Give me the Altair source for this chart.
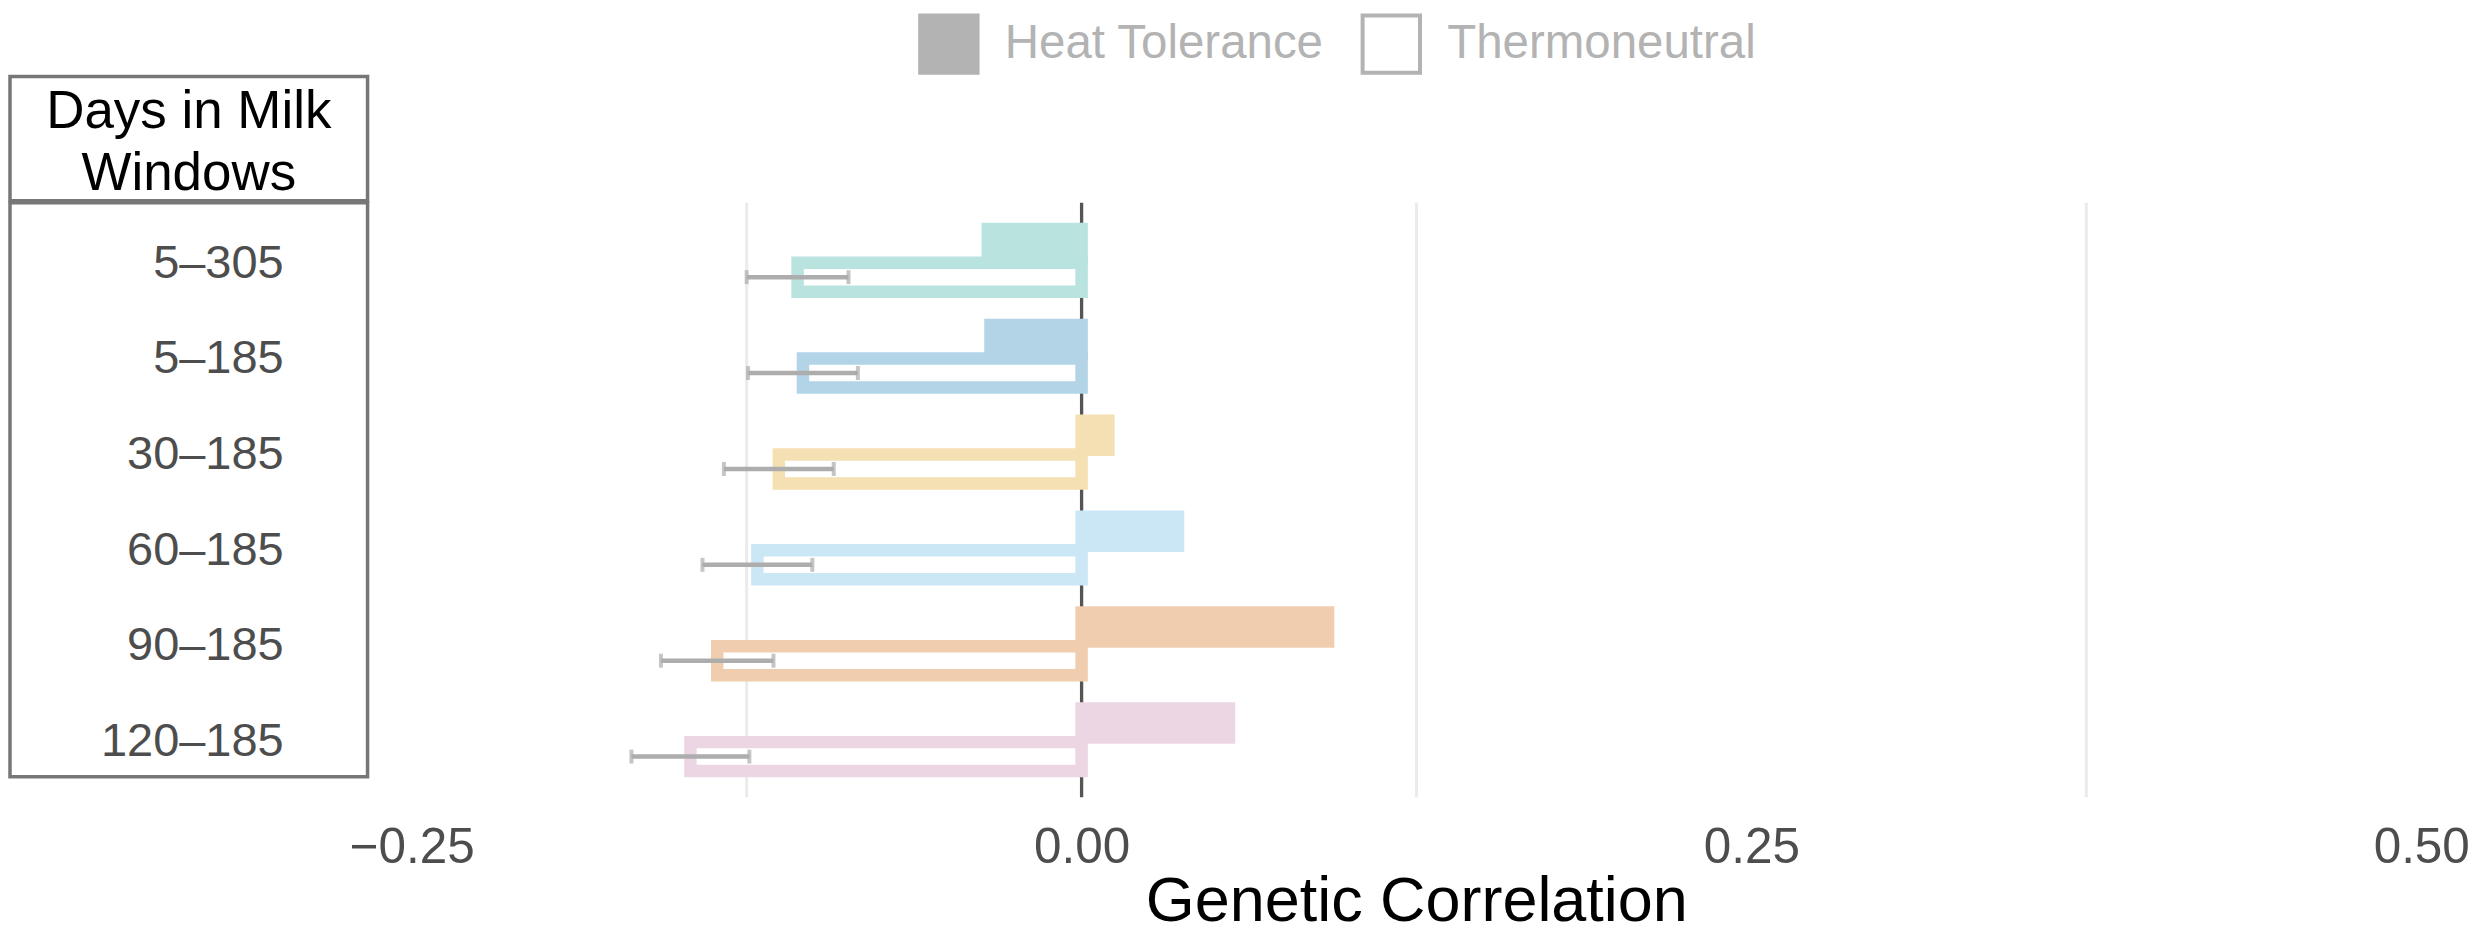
import altair as alt
import pandas as pd

# ---------------- data ----------------
windows = ["5–305", "5–185", "30–185", "60–185", "90–185", "120–185"]
heat_tolerance = [-0.035, -0.034, 0.010, 0.036, 0.092, 0.055]
thermoneutral = [-0.106, -0.104, -0.113, -0.121, -0.136, -0.146]
thermoneutral_se = [0.019, 0.0205, 0.0205, 0.0205, 0.021, 0.022]
window_colors = ["#b9e3df", "#b3d3e7", "#f5e0b3", "#cbe7f6", "#f1cdb0", "#ecd6e4"]
conditions = ["Heat Tolerance", "Thermoneutral"]
x_ticks = [-0.25, 0.0, 0.25, 0.5]
minor_grid = [-0.125, 0.125, 0.375]
header_lines = ["Days in Milk", "Windows"]

FONT = "Liberation Sans"

bars = pd.DataFrame({
    "Window": windows * 2,
    "Condition": [conditions[0]] * len(windows) + [conditions[1]] * len(windows),
    "value": heat_tolerance + thermoneutral,
})
err = pd.DataFrame({
    "Window": windows,
    "Condition": [conditions[1]] * len(windows),
    "lo": [v - s for v, s in zip(thermoneutral, thermoneutral_se)],
    "hi": [v + s for v, s in zip(thermoneutral, thermoneutral_se)],
})

# ---------------- scales / axes ----------------
x_scale = alt.Scale(domain=[-0.2665, 0.51], nice=False, zero=False)
y_scale = alt.Scale(domain=windows, paddingInner=0, paddingOuter=0.1)
yoff_scale = alt.Scale(domain=conditions, paddingInner=0.14, paddingOuter=0.494)
color_scale = alt.Scale(domain=windows, range=window_colors)

x_axis = alt.Axis(
    values=x_ticks, format=".2f", grid=False, ticks=False, tickSize=0, domain=False,
    labelFontSize=49.5, labelColor="#4d4d4d", labelFont=FONT, labelPadding=26,
    labelFlush=False, title="Genetic Correlation", titleFontSize=63,
    titleColor="#000000", titleFont=FONT, titleFontWeight="normal",
    titlePadding=-1, titleX=1050,
)


def x_enc(field):
    return alt.X(field, type="quantitative", scale=x_scale, axis=x_axis)


y_enc = alt.Y("Window:N", scale=y_scale, axis=None)
yoff_enc = alt.YOffset("Condition:N", scale=yoff_scale)

grid = alt.Chart(pd.DataFrame({"g": minor_grid})).mark_rule(
    color="#ebebeb", strokeWidth=3
).encode(x=x_enc("g"))

zero = alt.Chart(pd.DataFrame({"z": [0.0]})).mark_rule(
    color="#555555", strokeWidth=3.3
).encode(x=x_enc("z"))

heat = alt.Chart(bars).transform_filter(
    alt.datum.Condition == conditions[0]
).mark_bar(strokeWidth=12.5).encode(
    x=x_enc("value"), y=y_enc, yOffset=yoff_enc,
    fill=alt.Fill("Window:N", scale=color_scale, legend=None),
    stroke=alt.Stroke("Window:N", scale=color_scale, legend=None),
)

thermo = alt.Chart(bars).transform_filter(
    alt.datum.Condition == conditions[1]
).mark_bar(strokeWidth=12.5, fill="#ffffff").encode(
    x=x_enc("value"), y=y_enc, yOffset=yoff_enc,
    stroke=alt.Stroke("Window:N", scale=color_scale, legend=None),
)

err_rule = alt.Chart(err).mark_rule(color="#adadad", strokeWidth=4.5).encode(
    x=x_enc("lo"), x2="hi", y=y_enc, yOffset=yoff_enc,
)

err_caps = alt.Chart(err).transform_fold(["lo", "hi"], as_=["end", "pos"]).mark_tick(
    color="#adadad", orient="vertical", size=14, thickness=4
).encode(x=x_enc("pos"), y=y_enc, yOffset=yoff_enc)

legend_layer = alt.Chart(bars).transform_filter("false").mark_bar(
    stroke="#b3b3b3", strokeWidth=4
).encode(
    x=x_enc("value"), y=y_enc,
    fill=alt.Fill(
        "Condition:N",
        scale=alt.Scale(domain=conditions, range=["#b3b3b3", "#ffffff"]),
        legend=alt.Legend(
            title=None, orient="none", legendX=551, legendY=-190,
            direction="horizontal", symbolType="square", symbolSize=3300,
            symbolStrokeWidth=4, symbolStrokeColor="#b3b3b3", symbolOpacity=1,
            labelFontSize=47.5, labelColor="#b3b3b3", labelFont=FONT,
            labelOffset=25, columnPadding=30, labelLimit=800, padding=0,
        ),
    ),
)

main = alt.layer(
    grid, zero, heat, thermo, err_rule, err_caps, legend_layer
).resolve_scale(fill="independent").properties(
    width=2083, height=595.2,
    view=alt.ViewBackground(strokeWidth=0),
)

labels = alt.Chart(pd.DataFrame({"Window": windows})).mark_text(
    align="right", baseline="middle", fontSize=47, color="#4d4d4d", font=FONT, dy=13
).encode(
    y=alt.Y("Window:N", scale=alt.Scale(domain=windows, paddingInner=0, paddingOuter=0), axis=None),
    x=alt.value(274),
    text="Window:N",
).properties(
    width=358, height=574.5,
    view=alt.ViewBackground(stroke="#777777", strokeWidth=3.5),
)

header = alt.Chart(pd.DataFrame({"h": ["\n".join(header_lines)]})).mark_text(
    lineBreak="\n", fontSize=53, lineHeight=62, color="#000000", font=FONT,
    baseline="middle", dy=-27,
).encode(text="h:N").properties(
    width=358, height=124.5,
    view=alt.ViewBackground(stroke="#777777", strokeWidth=3.5),
)

chart = alt.vconcat(
    header,
    alt.hconcat(labels, main, spacing=0, bounds="flush"),
    spacing=1.5, bounds="flush",
).properties(
    padding={"left": 0, "top": 4, "right": 0, "bottom": 0},
).configure(font=FONT).configure_view(strokeWidth=0)

chart.save("out.html", embed_options={"renderer": "svg", "actions": False})
